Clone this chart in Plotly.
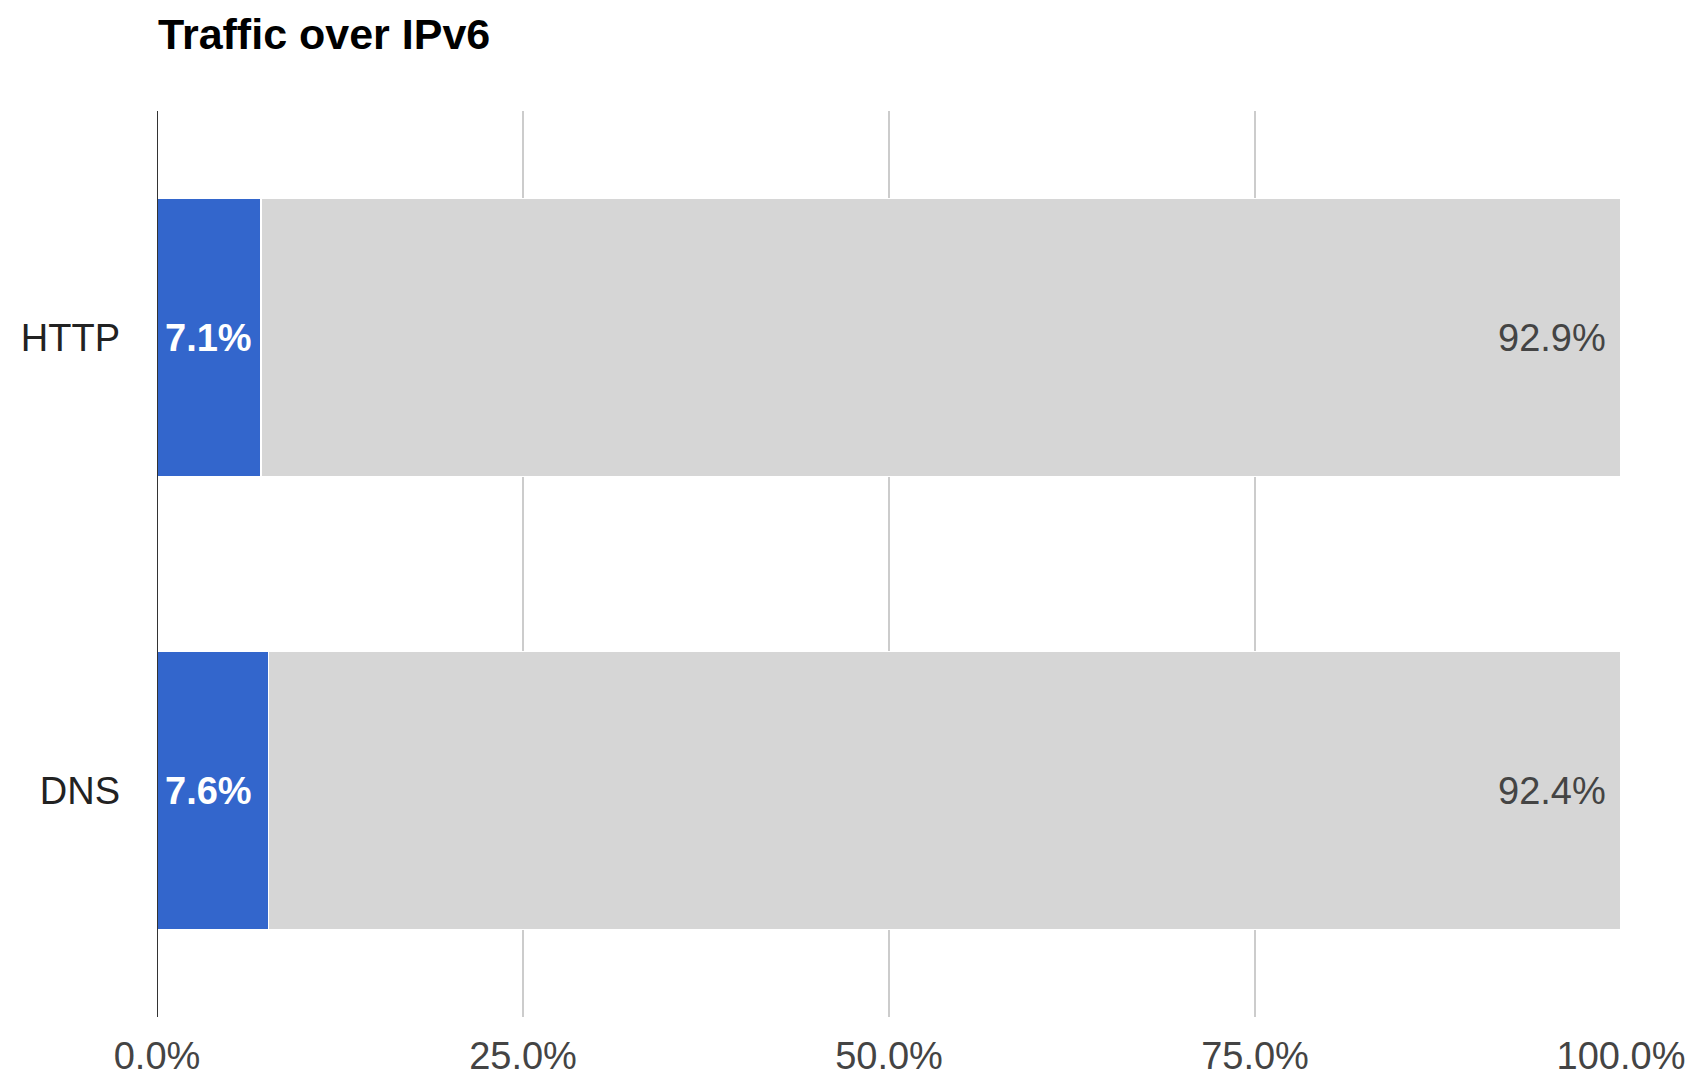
import plotly.graph_objects as go

categories = ["HTTP", "DNS"]
ipv6_share = [7.1, 7.6]
ipv4_share = [92.9, 92.4]
tick_values = [0, 25, 50, 75, 100]
tick_labels = ["0.0%", "25.0%", "50.0%", "75.0%", "100.0%"]
title_text = "Traffic over IPv6"

FONT = "Liberation Sans, Arial, sans-serif"
W, H = 1680, 1075  # page body has an 8px margin

fig = go.Figure()
fig.add_trace(go.Bar(
    y=categories, x=ipv6_share, orientation="h", name="IPv6",
    marker=dict(color="#3366CC", line=dict(color="white", width=1.5)),
    hoverinfo="skip",
))
fig.add_trace(go.Bar(
    y=categories, x=ipv4_share, orientation="h", name="IPv4",
    marker=dict(color="#D6D6D6", line=dict(color="white", width=1.5)),
    hoverinfo="skip",
))

for cat, v6, v4 in zip(categories, ipv6_share, ipv4_share):
    fig.add_annotation(x=0, y=cat, xref="x", yref="y", text=f"<b>{v6}%</b>",
                       xanchor="left", yanchor="middle", xshift=6, showarrow=False,
                       font=dict(family=FONT, size=38, color="white"))
    fig.add_annotation(x=v6 + v4, y=cat, xref="x", yref="y", text=f"{v4}%",
                       xanchor="right", yanchor="middle", xshift=-13, showarrow=False,
                       font=dict(family=FONT, size=38, color="#444444"))

fig.update_layout(
    width=W, height=H,
    barmode="stack", bargap=0.386,
    showlegend=False,
    plot_bgcolor="white", paper_bgcolor="white",
    margin=dict(l=149, r=67, t=103, b=66, autoexpand=False),
    font=dict(family=FONT, size=38, color="#444444"),
    title=dict(text=f"<b>{title_text}</b>", x=150/W, xref="container", xanchor="left",
               y=1-26/H, yref="container", yanchor="middle",
               font=dict(family=FONT, size=43, color="#000000")),
    xaxis=dict(range=[0, 100], tickvals=tick_values, ticktext=tick_labels,
               showgrid=True, gridcolor="#CCCCCC", gridwidth=1.5,
               zeroline=False, showline=False, ticks="", automargin=False,
               ticklabelstandoff=13,
               tickfont=dict(family=FONT, size=38, color="#444444")),
    yaxis=dict(categoryorder="array", categoryarray=categories[::-1],
               showgrid=False, zeroline=False, ticks="", automargin=False,
               ticklabelstandoff=36,
               tickfont=dict(family=FONT, size=38, color="#222222")),
)
fig.add_shape(type="line", xref="x", yref="paper", x0=0, x1=0, y0=0, y1=1,
              line=dict(color="#333333", width=2))

fig.write_html("out.html")
